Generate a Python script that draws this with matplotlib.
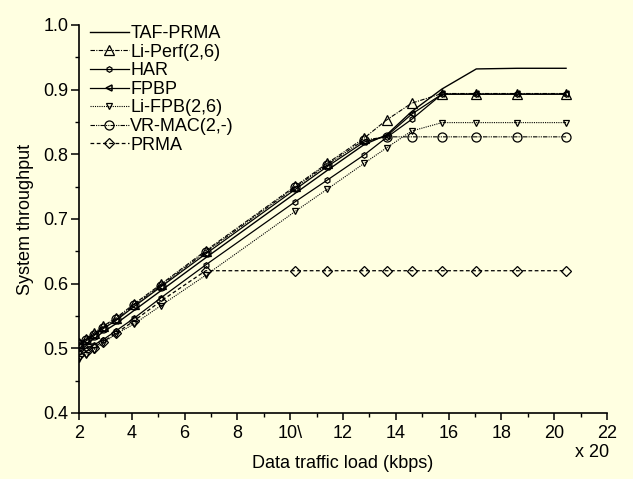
import matplotlib
matplotlib.use("Agg")
import matplotlib.pyplot as plt
from matplotlib.ticker import MultipleLocator

# ==========================================
# Data (load in units of 20 kbps)
# ==========================================

load = [2.0, 2.25, 2.55, 2.9, 3.4, 4.1, 5.1, 6.8, 10.2, 11.4,
        12.8, 13.65, 14.6, 15.75, 17.05, 18.6, 20.45]

taf_prma = [0.500, 0.507, 0.514, 0.525, 0.538, 0.559, 0.589, 0.640, 0.740, 0.775,
            0.815, 0.830, 0.866, 0.901, 0.932, 0.933, 0.933]
li_perf = [0.508, 0.515, 0.523, 0.534, 0.547, 0.569, 0.599, 0.651, 0.751, 0.786,
           0.825, 0.853, 0.879, 0.894, 0.894, 0.894, 0.894]
har = [0.495, 0.500, 0.505, 0.513, 0.527, 0.547, 0.578, 0.629, 0.727, 0.760,
       0.799, 0.826, 0.854, 0.893, 0.893, 0.893, 0.893]
fpbp = [0.504, 0.511, 0.519, 0.530, 0.543, 0.565, 0.595, 0.646, 0.746, 0.781,
        0.819, 0.828, 0.862, 0.893, 0.893, 0.893, 0.893]
li_fpb = [0.484, 0.490, 0.497, 0.508, 0.522, 0.538, 0.566, 0.613, 0.712, 0.746,
          0.786, 0.810, 0.836, 0.849, 0.849, 0.849, 0.849]
vr_mac = [0.506, 0.513, 0.521, 0.532, 0.545, 0.567, 0.597, 0.649, 0.749, 0.784,
          0.822, 0.827, 0.827, 0.827, 0.827, 0.827, 0.827]
prma = [0.490, 0.495, 0.501, 0.510, 0.523, 0.543, 0.573, 0.620, 0.620, 0.620,
        0.620, 0.620, 0.620, 0.620, 0.620, 0.620, 0.620]

x_ticks = [2, 4, 6, 8, 10, 12, 14, 16, 18, 20, 22]
x_tick_labels = ["2", "4", "6", "8", "10\\", "12", "14", "16", "18", "20", "22"]
y_ticks = [0.4, 0.5, 0.6, 0.7, 0.8, 0.9, 1.0]

BG = "#FFFFE1"

plt.rcParams["font.family"] = ["Liberation Sans", "DejaVu Sans"]
plt.rcParams["font.size"] = 13

fig = plt.figure(figsize=(6.33, 4.79), dpi=100, facecolor=BG)
ax = fig.add_axes([0.1248, 0.1378, 0.8341, 0.8101], facecolor=BG)

# ==========================================
# Curves
# ==========================================

ax.plot(load, taf_prma, color="black", lw=1.0, ls="-", label="TAF-PRMA")
ax.plot(load, li_perf, color="black", lw=0.8, ls=(0, (4, 1.2, 1, 1.2)),
        marker="^", ms=7, mfc="none", mew=0.9, label="Li-Perf(2,6)")
ax.plot(load, har, color="black", lw=0.9, ls="-",
        marker="h", ms=4, mfc="none", mew=0.9, label="HAR")
ax.plot(load, fpbp, color="black", lw=0.9, ls="-",
        marker="<", ms=4, mfc="none", mew=1.1, label="FPBP")
ax.plot(load, li_fpb, color="black", lw=0.8, ls=(0, (1, 1)),
        marker="v", ms=4.5, mfc="none", mew=0.9, label="Li-FPB(2,6)")
ax.plot(load, vr_mac, color="black", lw=0.8, ls=(0, (4, 1, 1, 1, 1, 1)),
        marker="o", ms=6.5, mfc="none", mew=0.9, label="VR-MAC(2,-)")
ax.plot(load, prma, color="black", lw=0.9, ls=(0, (3, 2)),
        marker="D", ms=5.5, mfc="none", mew=0.9, label="PRMA")

# ==========================================
# Axes styling
# ==========================================

ax.set_xlim(2, 22)
ax.set_ylim(0.4, 1.0)

ax.set_xticks(x_ticks)
ax.set_xticklabels(x_tick_labels)
ax.xaxis.set_minor_locator(MultipleLocator(1))
ax.set_yticks(y_ticks)
ax.yaxis.set_minor_locator(MultipleLocator(0.05))

for side in ["top", "right"]:
    ax.spines[side].set_visible(False)
for side in ["left", "bottom"]:
    ax.spines[side].set_linewidth(1.2)

ax.tick_params(axis="x", which="major", direction="out", length=5, width=1.1, pad=4)
ax.tick_params(axis="x", which="minor", direction="out", length=3, width=1.0)
ax.tick_params(axis="y", which="major", direction="out", length=6, width=1.1, pad=1.5)
ax.tick_params(axis="y", which="minor", direction="out", length=3, width=1.0)

ax.set_xlabel("Data traffic load (kbps)", labelpad=9)
ax.set_ylabel("System throughput", labelpad=7)

ax.text(1.005, -0.103, "x 20", transform=ax.transAxes, ha="right", va="center")

ax.legend(loc="upper left", bbox_to_anchor=(0.02, 1.0), frameon=False,
          borderaxespad=0, borderpad=0, handlelength=2.2, handletextpad=0.05,
          labelspacing=0.09)

plt.savefig("out.png", dpi=100, facecolor=BG)
